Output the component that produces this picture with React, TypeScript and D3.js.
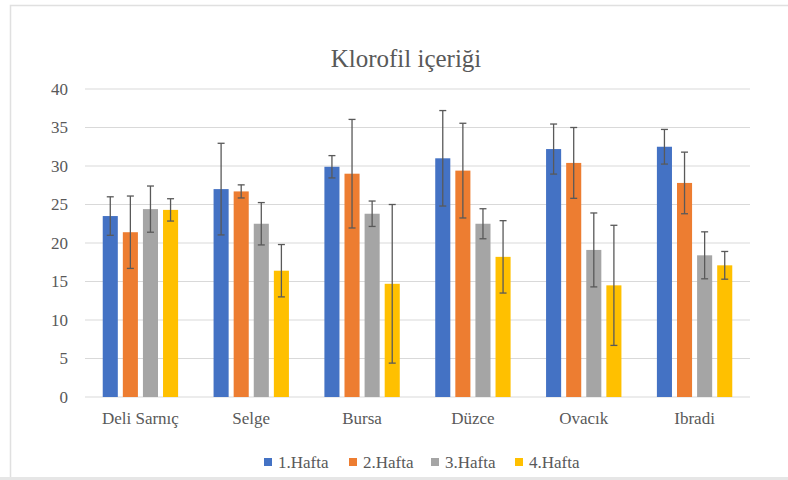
import * as React from 'react';
import * as d3 from 'd3';

const categories = ['Deli Sarnıç', 'Selge', 'Bursa', 'Düzce', 'Ovacık', 'Ibradi'];
const seriesNames = ['1.Hafta', '2.Hafta', '3.Hafta', '4.Hafta'];
const colors = ['#4472C4', '#ED7D31', '#A5A5A5', '#FFC000'];

// mean values per week (one array per series, ordered like categories)
const hafta1 = [23.5, 27.0, 29.9, 31.0, 32.2, 32.5];
const hafta2 = [21.4, 26.7, 29.0, 29.4, 30.4, 27.8];
const hafta3 = [24.4, 22.5, 23.8, 22.5, 19.1, 18.4];
const hafta4 = [24.3, 16.4, 14.7, 18.2, 14.5, 17.1];

// error bar half-widths
const err1 = [2.5, 5.95, 1.45, 6.2, 3.25, 2.25];
const err2 = [4.7, 0.85, 7.05, 6.15, 4.6, 4.0];
const err3 = [3.0, 2.75, 1.65, 1.95, 4.8, 3.05];
const err4 = [1.45, 3.4, 10.3, 4.7, 7.8, 1.8];

const yTicks = [0, 5, 10, 15, 20, 25, 30, 35, 40];
const title = 'Klorofil içeriği';

export default function App() {
  const svgRef = React.useRef<SVGSVGElement>(null);
  const width = 788;
  const height = 480;

  React.useEffect(() => {
    if (!svgRef.current) return;
    const svg = d3.select(svgRef.current);
    svg.selectAll('*').remove();

    const font = '"Liberation Serif", "Times New Roman", serif';
    const textColor = '#595959';
    const left = 85;
    const right = 750;
    const top = 89;
    const bottom = 397;

    // frame of the pasted chart (top + left edge, grey strip at the bottom)
    svg.append('rect').attr('width', width).attr('height', height).attr('fill', '#fff');
    svg
      .append('path')
      .attr('d', `M10.5,477 V5.5 H${width}`)
      .attr('fill', 'none')
      .attr('stroke', '#e0e0e0')
      .attr('stroke-width', 1.5);
    svg.append('rect').attr('x', 0).attr('y', 477).attr('width', width).attr('height', 3).attr('fill', '#e6e6e6');

    const values = [hafta1, hafta2, hafta3, hafta4];
    const errs = [err1, err2, err3, err4];

    const x0 = d3.scaleBand().domain(categories).range([left, right]).paddingInner(0.32).paddingOuter(0.16);
    const x1 = d3.scaleBand().domain(seriesNames).range([0, x0.bandwidth()]).paddingInner(0.25);
    const y = d3.scaleLinear().domain([0, 40]).range([bottom, top]);

    // gridlines
    svg
      .append('g')
      .selectAll('line')
      .data(yTicks)
      .enter()
      .append('line')
      .attr('x1', left)
      .attr('x2', right)
      .attr('y1', (d) => y(d))
      .attr('y2', (d) => y(d))
      .attr('stroke', '#d9d9d9')
      .attr('stroke-width', 1.2);

    // y labels
    svg
      .append('g')
      .selectAll('text')
      .data(yTicks)
      .enter()
      .append('text')
      .attr('x', 68)
      .attr('y', (d) => y(d))
      .attr('dy', '0.35em')
      .attr('text-anchor', 'end')
      .attr('font-family', font)
      .attr('font-size', 17)
      .attr('fill', textColor)
      .text((d) => d);

    // bars
    const rows = categories.flatMap((c, i) =>
      seriesNames.map((s, j) => ({ c, s, j, v: values[j][i], e: errs[j][i] }))
    );

    const bars = svg.append('g');
    bars
      .selectAll('rect')
      .data(rows)
      .enter()
      .append('rect')
      .attr('x', (d) => (x0(d.c) as number) + (x1(d.s) as number))
      .attr('y', (d) => y(d.v))
      .attr('width', x1.bandwidth())
      .attr('height', (d) => y(0) - y(d.v))
      .attr('fill', (d) => colors[d.j]);

    // error bars
    const eb = svg.append('g').attr('stroke', '#595959').attr('stroke-width', 1.3);
    rows.forEach((d) => {
      const cx = (x0(d.c) as number) + (x1(d.s) as number) + x1.bandwidth() / 2;
      const y1 = y(d.v + d.e);
      const y2 = y(d.v - d.e);
      eb.append('line').attr('x1', cx).attr('x2', cx).attr('y1', y1).attr('y2', y2);
      eb.append('line').attr('x1', cx - 3.5).attr('x2', cx + 3.5).attr('y1', y1).attr('y2', y1);
      eb.append('line').attr('x1', cx - 3.5).attr('x2', cx + 3.5).attr('y1', y2).attr('y2', y2);
    });

    // category labels
    svg
      .append('g')
      .selectAll('text')
      .data(categories)
      .enter()
      .append('text')
      .attr('x', (d) => (x0(d) as number) + x0.bandwidth() / 2)
      .attr('y', 424)
      .attr('text-anchor', 'middle')
      .attr('font-family', font)
      .attr('font-size', 17)
      .attr('fill', textColor)
      .text((d) => d);

    // title
    svg
      .append('text')
      .attr('x', 406)
      .attr('y', 67)
      .attr('text-anchor', 'middle')
      .attr('font-family', font)
      .attr('font-size', 25)
      .attr('fill', textColor)
      .text(title);

    // legend
    const legendX = [264, 349, 431, 515];
    const legend = svg.append('g');
    seriesNames.forEach((s, j) => {
      const g = legend.append('g').attr('transform', `translate(${legendX[j]}, 462)`);
      g.append('rect').attr('x', 0).attr('y', -4).attr('width', 8).attr('height', 8).attr('fill', colors[j]);
      g.append('text')
        .attr('x', 14)
        .attr('y', 0)
        .attr('dy', '0.35em')
        .attr('font-family', font)
        .attr('font-size', 17)
        .attr('fill', textColor)
        .text(s);
    });
  }, []);

  return (
    <div style={{ position: 'absolute', left: 0, top: 0 }}>
      <svg ref={svgRef} width={width} height={height} style={{ display: 'block' }} />
    </div>
  );
}
